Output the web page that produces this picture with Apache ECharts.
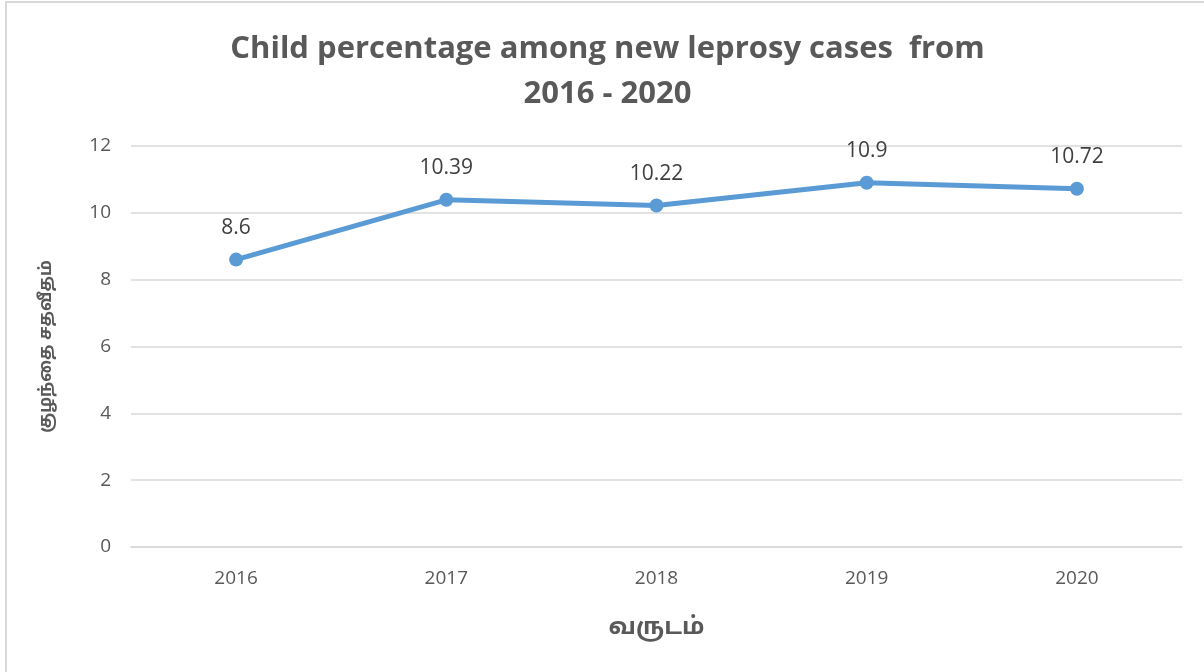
<!DOCTYPE html>
<html>
<head>
<meta charset="utf-8">
<script src="https://cdn.jsdelivr.net/npm/echarts@6/dist/echarts.min.js"></script>
<style>
  html, body { margin: 0; padding: 0; background: #fff; }
  #main { position: absolute; left: 5px; top: 1px; width: 1205px; height: 680px;
          border: 2px solid #d9d9d9; box-sizing: border-box; }
</style>
</head>
<body>
<div id="main"></div>
<script>
var years = ['2016', '2017', '2018', '2019', '2020'];
var childPercent = [8.6, 10.39, 10.22, 10.9, 10.72];
var titleLines = ['Child percentage among new leprosy cases  from', '2016 - 2020'];
var yAxisName = 'குழந்தை சதவீதம்';
var xAxisName = 'வருடம்';

var font = '"Open Sans", "Noto Sans", "Noto Sans Tamil", sans-serif';
var myChart = echarts.init(document.getElementById('main'));
var option = {
  backgroundColor: '#fff',
  title: {
    text: titleLines.join('\n'),
    left: 'center',
    top: 19,
    textStyle: {
      fontFamily: font,
      fontSize: 31,
      fontWeight: 'bold',
      color: '#595959',
      lineHeight: 45
    }
  },
  grid: {
    left: 124,
    right: 26,
    top: 143,
    bottom: 132,
    containLabel: false
  },
  xAxis: {
    type: 'category',
    data: years,
    boundaryGap: true,
    name: xAxisName,
    nameLocation: 'middle',
    nameGap: 68,
    nameTextStyle: { fontFamily: font, fontSize: 24, fontWeight: 'bold', color: '#595959' },
    axisLine: { lineStyle: { color: '#d9d9d9', width: 1.5 } },
    axisTick: { show: false },
    axisLabel: { fontFamily: font, fontSize: 19, color: '#595959', margin: 22 }
  },
  yAxis: {
    type: 'value',
    min: 0,
    max: 12,
    interval: 2,
    name: yAxisName,
    nameLocation: 'middle',
    nameGap: 76,
    nameTextStyle: { fontFamily: font, fontSize: 17, fontWeight: 'bold', color: '#595959' },
    axisLine: { show: false },
    axisTick: { show: false },
    splitLine: { lineStyle: { color: '#d9d9d9', width: 1.5 } },
    axisLabel: { fontFamily: font, fontSize: 19, color: '#595959', margin: 20 }
  },
  series: [
    {
      type: 'line',
      data: childPercent,
      symbol: 'circle',
      symbolSize: 14,
      lineStyle: { color: '#5b9bd5', width: 5 },
      itemStyle: { color: '#5b9bd5' },
      label: {
        show: true,
        position: 'top',
        distance: 14,
        fontFamily: font,
        fontSize: 21,
        color: '#404040'
      }
    }
  ]
};
myChart.setOption(option);
</script>
</body>
</html>
